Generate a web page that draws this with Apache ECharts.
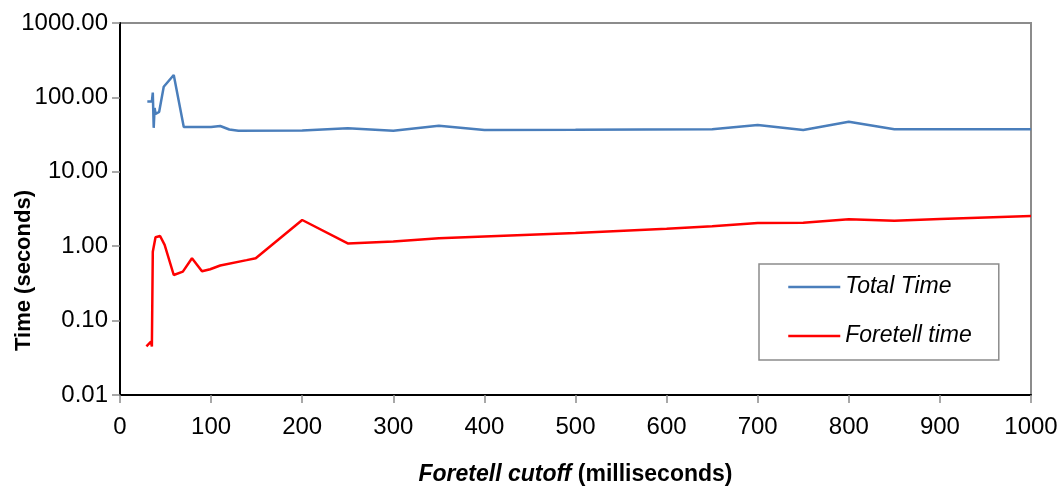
<!DOCTYPE html>
<html>
<head>
<meta charset="utf-8">
<style>
  html, body { margin: 0; padding: 0; background: #fff; }
  #chart { width: 1064px; height: 493px; }
</style>
<script src="https://cdn.jsdelivr.net/npm/echarts@6/dist/echarts.min.js"></script>
</head>
<body>
<div id="chart"></div>
<script>
// Total run time per cutoff (seconds)
const totalCutoffs = [30, 35, 36, 37, 38, 39, 43, 48, 59, 70, 100, 110, 120, 130, 200, 250, 300, 350, 400, 500, 650, 700, 750, 800, 850, 900, 1000];
const totalTimes   = [88, 88, 116, 39, 72, 60, 64, 139, 200, 40, 40, 41.3, 37, 35.7, 36, 38.5, 35.7, 41.7, 36.5, 36.8, 37.3, 42.6, 36.5, 47, 37.3, 37.3, 37.3];

// Foretell time per cutoff (seconds)
const foretellCutoffs = [29, 34, 35, 36, 39, 44, 49, 59, 69, 79, 90, 99, 110, 139, 149, 200, 250, 300, 350, 400, 500, 600, 650, 700, 750, 800, 850, 900, 1000];
const foretellTimes   = [0.045, 0.052, 0.045, 0.84, 1.32, 1.37, 1.04, 0.41, 0.455, 0.69, 0.46, 0.49, 0.55, 0.65, 0.69, 2.25, 1.09, 1.16, 1.28, 1.35, 1.5, 1.72, 1.85, 2.05, 2.06, 2.3, 2.2, 2.32, 2.55];

const seriesNames = ['Total Time', 'Foretell time'];
const xTitleItalic = 'Foretell cutoff';
const xTitleRest = ' (milliseconds)';
const yTitle = 'Time (seconds)';

const FONT = '"Liberation Sans", Arial, sans-serif';

const zip = (xs, ys) => xs.map((x, i) => [x, ys[i]]);

const chart = echarts.init(document.getElementById('chart'), null, { renderer: 'canvas' });

chart.setOption({
  animation: false,
  backgroundColor: '#ffffff',
  grid: {
    left: 120, right: 33, top: 23, bottom: 98,
    show: true, borderColor: '#8c8c8c', borderWidth: 2, backgroundColor: 'transparent'
  },
  xAxis: {
    type: 'value', min: 0, max: 1000, interval: 100,
    axisLine: { show: true, onZero: false, lineStyle: { color: '#000', width: 2 } },
    axisTick: { show: true, inside: false, length: 8, lineStyle: { color: '#8c8c8c', width: 1.5 } },
    axisLabel: { color: '#000', fontFamily: FONT, fontSize: 24, margin: 20, formatter: v => String(v) },
    splitLine: { show: false },
    name: '{i|' + xTitleItalic + '}{n|' + xTitleRest + '}',
    nameLocation: 'middle', nameGap: 68,
    nameTextStyle: {
      rich: {
        i: { fontFamily: FONT, fontSize: 23, fontWeight: 'bold', fontStyle: 'italic', color: '#000' },
        n: { fontFamily: FONT, fontSize: 23, fontWeight: 'bold', color: '#000' }
      }
    }
  },
  yAxis: {
    type: 'log', logBase: 10, min: 0.01, max: 1000,
    axisLine: { show: true, lineStyle: { color: '#000', width: 2 } },
    axisTick: { show: true, inside: false, length: 8, lineStyle: { color: '#8c8c8c', width: 1.5 } },
    axisLabel: {
      color: '#000', fontFamily: FONT, fontSize: 24, margin: 12,
      formatter: v => Number(v).toFixed(2)
    },
    splitLine: { show: false },
    minorTick: { show: false }
  },
  legend: {
    orient: 'vertical',
    left: 759, top: 264,
    padding: [11, 27, 12, 28],
    itemGap: 25,
    itemWidth: 52, itemHeight: 14,
    borderColor: '#8c8c8c', borderWidth: 1.5,
    backgroundColor: '#fff',
    itemStyle: { opacity: 0, borderWidth: 0 },
    lineStyle: { width: 2.5 },
    textStyle: { fontFamily: FONT, fontSize: 23, fontStyle: 'italic', color: '#000', lineHeight: 24 },
    data: seriesNames
  },
  graphic: [{
    type: 'text',
    left: 13, top: 190,
    rotation: Math.PI / 2,
    style: {
      text: yTitle, fill: '#000',
      font: 'bold 22px ' + FONT
    }
  }],
  series: [
    {
      name: seriesNames[0], type: 'line', data: zip(totalCutoffs, totalTimes),
      showSymbol: false, symbol: 'none',
      lineStyle: { color: '#4a7ebb', width: 2.5 }, itemStyle: { color: '#4a7ebb' }
    },
    {
      name: seriesNames[1], type: 'line', data: zip(foretellCutoffs, foretellTimes),
      showSymbol: false, symbol: 'none',
      lineStyle: { color: '#ff0000', width: 2.5 }, itemStyle: { color: '#ff0000' }
    }
  ]
});
</script>
</body>
</html>
